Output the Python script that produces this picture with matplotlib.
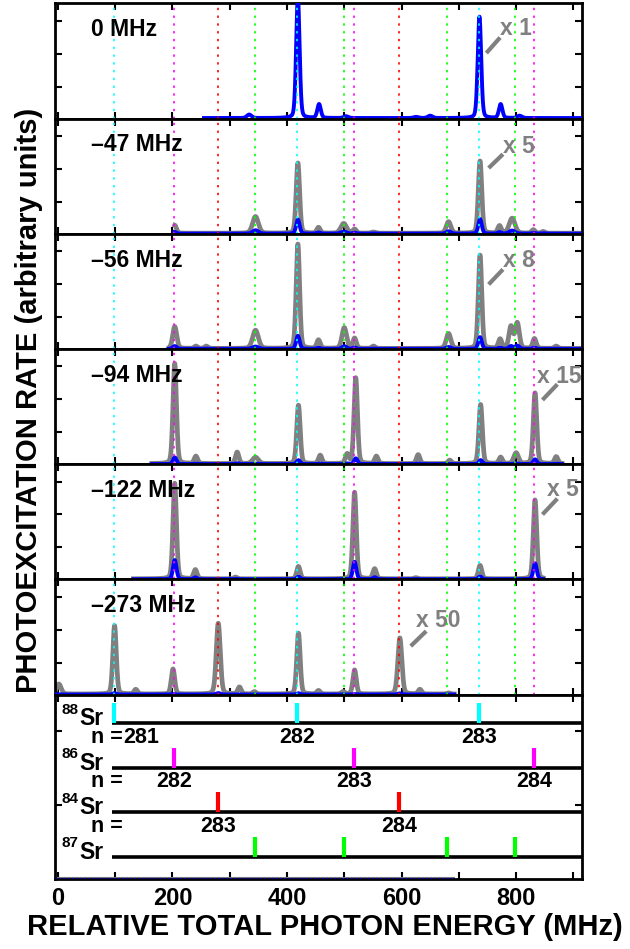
import numpy as np
import matplotlib
matplotlib.use("Agg")
import matplotlib.pyplot as plt

FONT = ["Liberation Sans", "DejaVu Sans"]
plt.rcParams["font.family"] = FONT
plt.rcParams["font.weight"] = "bold"

# ---------------- data ----------------
detunings = ["0 MHz", "\u201347 MHz", "\u201356 MHz", "\u201394 MHz", "\u2013122 MHz", "\u2013273 MHz"]
scale_factors = [1, 5, 8, 15, 5, 50]
scan_start = [255, 204, 194, 164, 132, -5]
scan_end = [915, 915, 910, 880, 847, 692]

# peaks of the scaled (grey) spectrum: position MHz, height (fraction of panel), width MHz
peaks_0 = [(334, 0.03, 4), (419, 1.05, 3.0), (456, 0.12, 3), (503, 0.015, 4), (625, 0.01, 4),
           (650, 0.02, 4), (736, 0.88, 3.0), (773, 0.12, 3), (806, 0.02, 4)]
peaks_47 = [(204, 0.07, 3), (345, 0.145, 5), (419, 0.61, 3), (455, 0.05, 3), (499, 0.085, 5),
            (518, 0.035, 3), (551, 0.01, 4), (682, 0.10, 4), (737, 0.627, 3), (771, 0.064, 3),
            (793, 0.13, 5), (830, 0.03, 3), (847, 0.015, 3)]
peaks_56 = [(204, 0.19, 3.5), (241, 0.02, 3), (259, 0.02, 3), (345, 0.158, 5), (419, 0.906, 3),
            (455, 0.073, 3), (500, 0.18, 4), (518, 0.088, 3), (551, 0.02, 3), (682, 0.129, 4),
            (737, 0.81, 3), (772, 0.08, 3), (791, 0.19, 3.5), (802, 0.22, 3.5), (832, 0.085, 3),
            (870, 0.02, 3)]
peaks_94 = [(204, 0.87, 3), (241, 0.064, 3), (313, 0.10, 3), (345, 0.055, 5), (420, 0.507, 3),
            (458, 0.072, 3), (505, 0.08, 3), (520, 0.745, 3), (556, 0.064, 3), (629, 0.078, 3),
            (684, 0.03, 3), (738, 0.513, 3), (773, 0.055, 3), (800, 0.093, 4), (833, 0.614, 3),
            (870, 0.06, 3)]
peaks_122 = [(204, 0.83, 3), (240, 0.079, 3), (310, 0.015, 3), (420, 0.108, 3), (518, 0.752, 3),
             (553, 0.087, 3), (625, 0.01, 3), (737, 0.117, 3), (833, 0.685, 3)]
peaks_273 = [(1.7, 0.087, 4), (99, 0.594, 3), (136, 0.04, 3), (201, 0.217, 3), (280, 0.614, 3.5),
             (317, 0.06, 3), (343, 0.02, 3), (420, 0.528, 3), (455, 0.03, 3), (498, 0.02, 3),
             (518, 0.209, 3), (597, 0.487, 3.5), (632, 0.04, 3), (682, 0.01, 3)]
panel_peaks = [peaks_0, peaks_47, peaks_56, peaks_94, peaks_122, peaks_273]

# "x N" annotation: text (x, y) and pointer line (x0, y0, x1, y1)
scale_text_pos = [(772, 0.78), (777, 0.76), (777, 0.766), (837, 0.76), (854, 0.78), (625, 0.64)]
scale_line = [(748, 0.568, 772, 0.703), (752, 0.57, 777, 0.69), (752, 0.56, 777, 0.69),
              (846, 0.557, 872, 0.693), (846, 0.563, 872, 0.70), (616, 0.42, 643, 0.55)]

# isotope level positions (MHz)
isotopes = ["88", "86", "84", "87"]
iso_colors = ["#00FFFF", "#FF00FF", "#FF0000", "#00FF00"]
sr88_lines = [98, 418, 735]
sr86_lines = [203, 517, 831]
sr84_lines = [279, 596]
sr87_lines = [344, 499, 679, 798]
iso_lines = [sr88_lines, sr86_lines, sr84_lines, sr87_lines]
sr88_n = ["281", "282", "283"]
sr86_n = ["282", "283", "284"]
sr84_n = ["283", "284"]
iso_n = [sr88_n, sr86_n, sr84_n, None]

# ---------------- figure ----------------
W, H = 630, 949
fig = plt.figure(figsize=(W / 100, H / 100), dpi=100)

left_px, right_px = 55, 582
top_px = 3.3
panel_h = 115.2
xlim = (-5, 915)


def fx(px):
    return px / W


def fy(px):
    return 1 - px / H


def line_shape(x, p, w):
    g = np.exp(-0.5 * ((x - p) / w) ** 2)
    hw = 1.1774 * w
    lor = hw ** 2 / ((x - p) ** 2 + hw ** 2)
    return 0.78 * g + 0.22 * lor


def draw_isolines(ax):
    for lines, c in zip(iso_lines, iso_colors):
        for xv in lines:
            ax.axvline(xv, color=c, lw=1.4, ls=(0, (1.2, 2.8)), alpha=0.85, zorder=5)


def style_axes(ax):
    for s in ax.spines.values():
        s.set_linewidth(2.0)
    ax.set_xlim(*xlim)
    ax.set_xticks(np.arange(0, 901, 100))
    ax.tick_params(direction="in", length=5, width=1.5, top=True, right=True,
                   labelbottom=False, labelleft=False)


for i in range(6):
    b = top_px + (i + 1) * panel_h
    ax = fig.add_axes([fx(left_px), fy(b), fx(right_px - left_px), panel_h / H])
    style_axes(ax)
    ax.set_ylim(0, 1)
    ax.set_yticks([0.277, 0.563, 0.848])
    x = np.linspace(scan_start[i], scan_end[i], 3000)
    y = np.zeros_like(x) + 0.004
    for p, h, w in panel_peaks[i]:
        y += h * line_shape(x, p, w)
    if scale_factors[i] != 1:
        ax.plot(x, y, color="#808080", lw=3.4, zorder=2, solid_joinstyle="round")
    ax.plot(x, y / scale_factors[i], color="#0000FF", lw=2.8, zorder=3)
    draw_isolines(ax)
    ax.text(58, 0.77, detunings[i], fontsize=16.5, fontweight="bold", va="center", ha="left",
            zorder=6)
    tx, ty = scale_text_pos[i]
    ax.text(tx, ty, "x %d" % scale_factors[i], fontsize=16.5, fontweight="bold",
            color="#808080", va="center", ha="left", zorder=6)
    x0, y0, x1, y1 = scale_line[i]
    ax.plot([x0, x1], [y0, y1], color="#808080", lw=3, zorder=6, solid_capstyle="butt")

# isotope panel
iso_top, iso_bot = 694.5, 879
axi = fig.add_axes([fx(left_px), fy(iso_bot), fx(right_px - left_px), (iso_bot - iso_top) / H])
style_axes(axi)
axi.set_ylim(0, 4.15)
axi.set_yticks([1.66, 3.32])
axi.tick_params(labelbottom=True, labelsize=17, pad=6)
axi.set_xticklabels(["0", "", "200", "", "400", "", "600", "", "800", ""])
for lab in axi.get_xticklabels():
    lab.set_fontweight("bold")
axi.plot([-5, 692], [0.03, 0.03], color="#808080", lw=1.5, zorder=2)
axi.plot([-5, 692], [0.03, 0.03], color="#0000FF", lw=1.0, ls=(0, (1, 2)), zorder=3)

baselines = [3.5, 2.5, 1.5, 0.5]
for k in range(4):
    yb = baselines[k]
    axi.plot([94, xlim[1]], [yb, yb], color="black", lw=2.6, zorder=3, solid_capstyle="butt")
    for xv in iso_lines[k]:
        axi.plot([xv, xv], [yb, yb + 0.45], color=iso_colors[k], lw=3.0, zorder=4,
                 solid_capstyle="butt")
    axi.annotate(isotopes[k], xy=(7, yb), xytext=(0, 7), textcoords="offset points",
                 fontsize=11, fontweight="bold", ha="left", va="baseline")
    axi.annotate("Sr", xy=(7, yb), xytext=(12.5, -1.5), textcoords="offset points",
                 fontsize=16.5, fontweight="bold", ha="left", va="baseline")
    if iso_n[k] is not None:
        axi.annotate("n =", xy=(57, yb), xytext=(0, -14), textcoords="offset points",
                     fontsize=15.5, fontweight="bold", ha="left", va="baseline")
        for j, (xv, lab) in enumerate(zip(iso_lines[k], iso_n[k])):
            xx = 146 if (k == 0 and j == 0) else xv
            axi.annotate(lab, xy=(xx, yb), xytext=(0, -14), textcoords="offset points",
                         fontsize=15.5, fontweight="bold", ha="center", va="baseline")

fig.text(fx(325), fy(927), "RELATIVE TOTAL PHOTON ENERGY (MHz)", fontsize=21,
         fontweight="bold", ha="center", va="center")
fig.text(fx(29), fy(400), "PHOTOEXCITATION RATE (arbitrary units)", fontsize=21,
         fontweight="bold", ha="center", va="center", rotation=90)

fig.savefig("out.png", dpi=100)
